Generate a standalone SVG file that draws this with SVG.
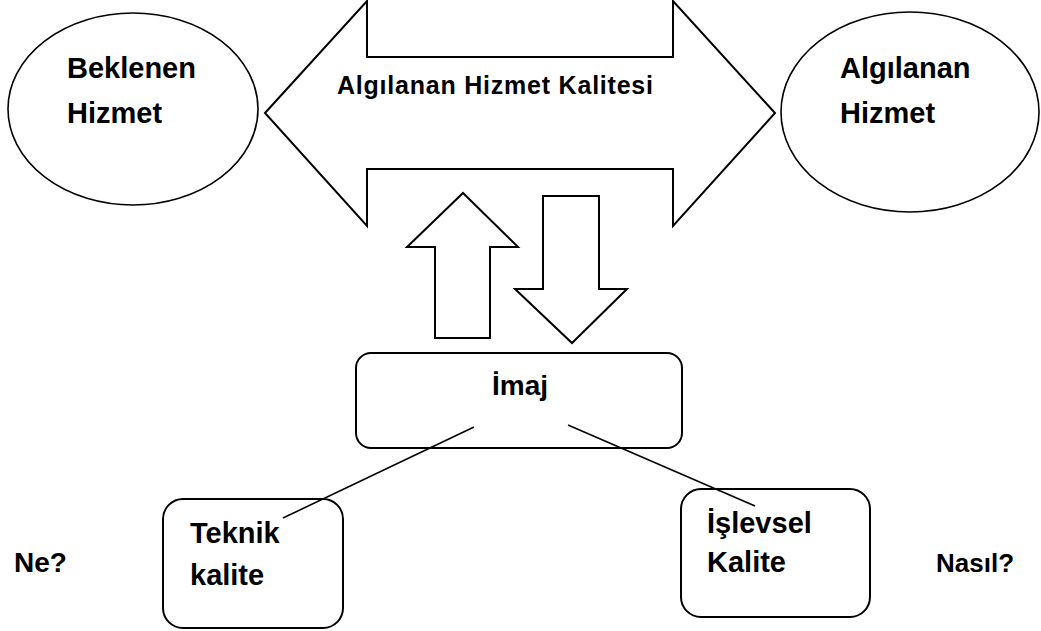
<svg xmlns="http://www.w3.org/2000/svg" width="1041" height="631" viewBox="0 0 1041 631">
<style>
.s{fill:#fff;stroke:#000;stroke-width:2}
.e{fill:#fff;stroke:#000;stroke-width:1.6}
.t{font-family:"Liberation Sans",Arial,sans-serif;font-weight:bold;fill:#000;font-size:29px}
.c{stroke:#000;stroke-width:1.6;fill:none}
</style>
<rect width="1041" height="631" fill="#fff"/>
<g id="beklenen">
<ellipse class="e" cx="133" cy="109" rx="125" ry="96"/>
<text class="t" x="67" y="78">Beklenen</text>
<text class="t" x="67" y="123">Hizmet</text>
</g>
<g id="algilanan">
<ellipse class="e" cx="910" cy="112" rx="129" ry="100"/>
<text class="t" x="840" y="78">Algılanan</text>
<text class="t" x="840" y="123">Hizmet</text>
</g>
<g id="kalite">
<polygon class="s" points="265,113 367,1 367,57 673,57 673,1 775,113 673,226 673,169 367,169 367,226"/>
<text class="t" x="337" y="94" style="font-size:25px" textLength="316" lengthAdjust="spacing">Algılanan Hizmet Kalitesi</text>
</g>
<g id="up-arrow">
<polygon class="s" points="463,193 518,247 490,247 490,338 435,338 435,247 407,247"/>
</g>
<g id="down-arrow">
<polygon class="s" points="543,196 599,196 599,289 627,289 572,343 515,289 543,289"/>
</g>
<g id="imaj">
<rect class="s" x="356" y="353" width="326" height="95" rx="15"/>
<text class="t" x="492" y="395" style="font-size:28px">İmaj</text>
</g>
<g id="teknik">
<rect class="s" x="163" y="499" width="180" height="129" rx="20"/>
<text class="t" x="190" y="543">Teknik</text>
<text class="t" x="190" y="585">kalite</text>
</g>
<g id="islevsel">
<rect class="s" x="681" y="489" width="189" height="128" rx="20"/>
<text class="t" x="707" y="533">İşlevsel</text>
<text class="t" x="707" y="572">Kalite</text>
</g>
<g id="labels">
<text class="t" x="14" y="572" style="font-size:28px">Ne?</text>
<text class="t" x="936" y="572" style="font-size:26px">Nasıl?</text>
</g>
<g id="connectors">
<line class="c" x1="474" y1="427" x2="283" y2="518"/>
<line class="c" x1="568" y1="425" x2="755" y2="506"/>
</g>
</svg>
